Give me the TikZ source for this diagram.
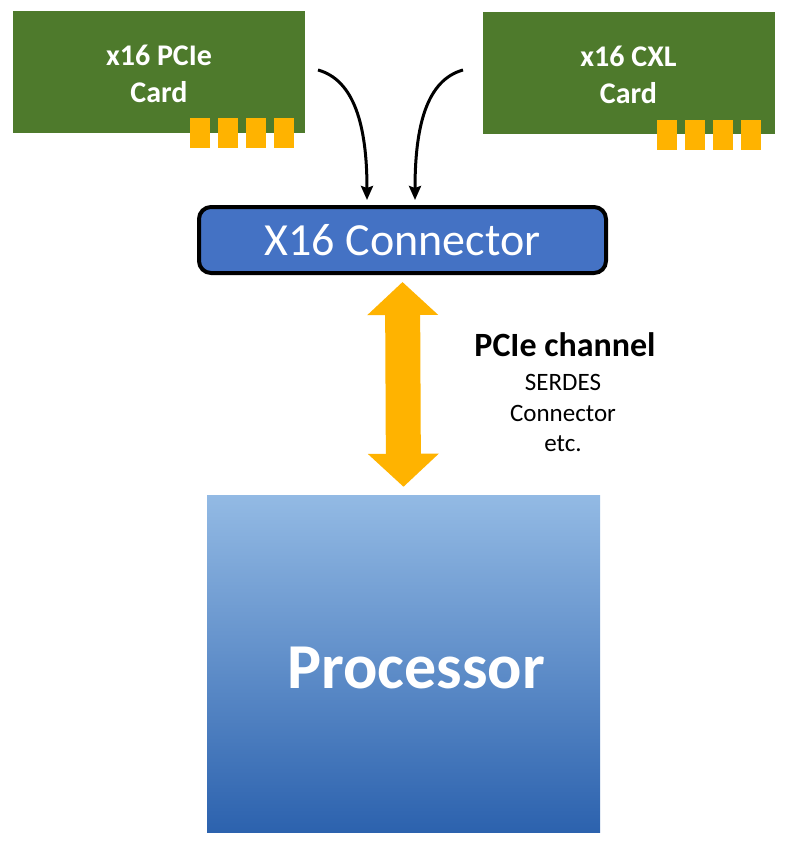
\documentclass[tikz,border=0pt]{standalone}
\usepackage{fontspec}
\setmainfont{Carlito}
\usetikzlibrary{arrows.meta}
\definecolor{cardgreen}{HTML}{4E7A2C}
\definecolor{padyellow}{HTML}{FFB300}
\definecolor{connblue}{HTML}{4472C4}
\definecolor{proctop}{HTML}{93BAE4}
\definecolor{procbottom}{HTML}{2C62AE}
\begin{document}
\begin{tikzpicture}[x=1pt,y=-1pt,
    card/.style={fill=cardgreen,minimum width=292pt,minimum height=122pt,text=white,align=center,font=\fontsize{30}{37}\selectfont\bfseries},
    pad/.style={fill=padyellow,minimum width=20pt,minimum height=30pt,inner sep=0pt},
    conn/.style={draw=black,line width=4pt,rounded corners=12pt,fill=connblue,minimum width=407pt,minimum height=66pt,text=white,font=\fontsize{46}{50}\selectfont},
    proc/.style={top color=proctop,bottom color=procbottom,minimum width=393pt,minimum height=337pt,inner sep=0pt},
    curve/.style={line width=3pt,-{Stealth[length=14pt,width=12pt,inset=2pt]}},
    bus/.style={draw=padyellow,line width=35pt,{Triangle[length=33pt,width=69pt]}-{Triangle[length=33pt,width=69pt]}}]
    \useasboundingbox (0,0) rectangle (788,844);

    \node[card] (pcie) at (159,71.5) {};
    \node[card] (cxl) at (628.5,72.5) {};
    \node[text=white,align=center,font=\fontsize{30}{37}\selectfont\bfseries] (pcietext) at (159,74) {x16 PCIe\\Card};
    \node[text=white,align=center,font=\fontsize{30}{37}\selectfont\bfseries] (cxltext) at (628.5,75) {x16 CXL\\Card};
    \foreach \x in {200,228,256,284}
    \node[pad] (pciepad\x) at (\x,133) {};
    \foreach \x in {667,695,723,751}
    \node[pad] (cxlpad\x) at (\x,135) {};

    \node[conn] (conn) at (402.5,240) {X16 Connector};
    \node[proc] (proc) at (403.5,663.5) {};
    \node[text=white,font=\fontsize{64}{70}\selectfont\bfseries] (proclabel) at (416,668) {Processor};

    \node[font=\fontsize{34}{38}\selectfont\bfseries] (chtitle) at (565,345) {PCIe channel};
    \node[align=center,font=\fontsize{25}{30.5}\selectfont] (chnotes) at (563,413) {SERDES\\Connector\\etc.};

    \coordinate (pcieout) at (318,70);
    \coordinate (cxlout) at (463,70);
    \draw[curve] (pcieout) .. controls (354,80) and (367,125) .. ([xshift=-35.5pt,yshift=5pt]conn.north);
    \draw[curve] (cxlout) .. controls (427,80) and (415,125) .. ([xshift=12.5pt,yshift=5pt]conn.north);

    \draw[bus] ([yshift=-7pt]conn.south) -- ([yshift=8pt]proc.north);
  \end{tikzpicture}
\end{document}
